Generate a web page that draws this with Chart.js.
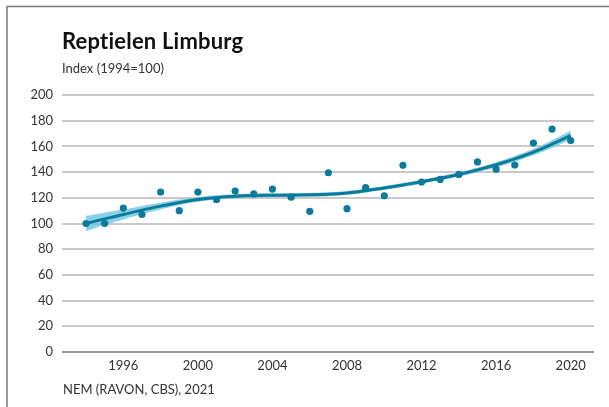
<!DOCTYPE html>
<html>
<head>
<meta charset="utf-8">
<script src="https://cdn.jsdelivr.net/npm/chart.js@4/dist/chart.umd.min.js"></script>
<style>
html,body{margin:0;padding:0;background:#fff;}
#wrap{width:609px;height:407px;position:relative;}
</style>
</head>
<body>
<div id="wrap"><canvas id="c" width="609" height="407"></canvas></div>
<script>
const title = "Reptielen Limburg";
const subtitle = "Index (1994=100)";
const source = "NEM (RAVON, CBS), 2021";
const years = [1994,1995,1996,1997,1998,1999,2000,2001,2002,2003,2004,2005,2006,2007,2008,2009,2010,2011,2012,2013,2014,2015,2016,2017,2018,2019,2020];
const observed = [100,100,112,107,124.5,110,124.5,118.5,125.3,123,126.8,120.5,109.5,139.5,111.5,128,121.5,145.3,132.3,134.3,138.2,147.9,142.3,145.5,162.6,173.5,164.5];
const trend = [100,103.6,107,110.4,113.5,116.4,118.7,120.3,121.3,121.8,122,122.1,122.3,122.8,123.8,125.5,127.7,130,132.5,135.2,138.2,141.7,145.7,150.3,155.6,161.8,168.5];
const bandHalf = [6,4.8,3.8,3.2,2.6,2.2,1.8,1.6,1.5,1.5,1.5,1.5,1.5,1.5,1.5,1.5,1.5,1.5,1.5,1.6,1.7,1.8,2,2.2,2.5,3,3.6];
const xTicks = [1996,2000,2004,2008,2012,2016,2020];
const yTicks = [0,20,40,60,80,100,120,140,160,180,200];

const upper = years.map((y,i)=>({x:y,y:trend[i]+bandHalf[i]}));
const lower = years.map((y,i)=>({x:y,y:trend[i]-bandHalf[i]}));
const trendPts = years.map((y,i)=>({x:y,y:trend[i]}));
const obsPts = years.map((y,i)=>({x:y,y:observed[i]}));

const TEAL = '#0b7b9b';
const FONT = 'Lato, "Open Sans", sans-serif';

const decor = {
  id:'decor',
  beforeDraw(chart){
    const ctx = chart.ctx;
    ctx.save();
    ctx.fillStyle='#fff';
    ctx.fillRect(0,0,chart.width,chart.height);
    ctx.strokeStyle='#777';
    ctx.lineWidth=1.5;
    ctx.beginPath();
    ctx.moveTo(7,407);
    ctx.lineTo(7,6.5);
    ctx.lineTo(609,6.5);
    ctx.stroke();
    ctx.restore();
  },
  afterDraw(chart){
    const ctx = chart.ctx;
    ctx.save();
    ctx.fillStyle='#111';
    ctx.textBaseline='alphabetic';
    ctx.font='bold 22px '+FONT;
    try{ ctx.letterSpacing='0.2px'; }catch(e){}
    ctx.fillText(title,62,49);
    try{ ctx.letterSpacing='0px'; }catch(e){}
    ctx.fillStyle='#333';
    ctx.font='13px '+FONT;
    ctx.fillText(subtitle,62,73);
    ctx.fillText(source,63,394);
    ctx.restore();
  }
};

new Chart(document.getElementById('c'),{
  type:'line',
  data:{
    datasets:[
      {data:upper,borderWidth:0,pointRadius:0,fill:'+1',backgroundColor:'rgba(110,196,226,0.8)',tension:0.4,order:3},
      {data:lower,borderWidth:0,pointRadius:0,fill:false,tension:0.4,order:3},
      {data:trendPts,borderColor:TEAL,borderWidth:3,pointRadius:0,fill:false,tension:0.4,order:2},
      {type:'scatter',data:obsPts,pointRadius:3.6,pointBackgroundColor:TEAL,pointBorderWidth:0,showLine:false,order:1}
    ]
  },
  options:{
    responsive:false,
    animation:false,
    events:[],
    plugins:{legend:{display:false},tooltip:{enabled:false}},
    layout:{padding:{left:0,right:15,top:95,bottom:0}},
    scales:{
      x:{
        type:'linear',
        min:1992.71,max:2021.25,
        afterBuildTicks(s){ s.ticks = xTicks.map(v=>({value:v})); },
        afterFit(s){ s.height = 55; },
        grid:{display:false,drawTicks:false},
        border:{display:false},
        ticks:{font:{family:FONT,size:13},color:'#333',padding:6,maxRotation:0,autoSkip:false,callback:v=>String(v)}
      },
      y:{
        min:0,max:200,
        afterBuildTicks(s){ s.ticks = yTicks.map(v=>({value:v})); },
        afterFit(s){ s.width = 62; },
        grid:{drawTicks:false,color:c=>c.tick.value===0?'#9a9a9a':'#c9c9c9',lineWidth:2},
        border:{display:false},
        ticks:{font:{family:FONT,size:13},color:'#333',padding:9}
      }
    }
  },
  plugins:[decor]
});
</script>
</body>
</html>
